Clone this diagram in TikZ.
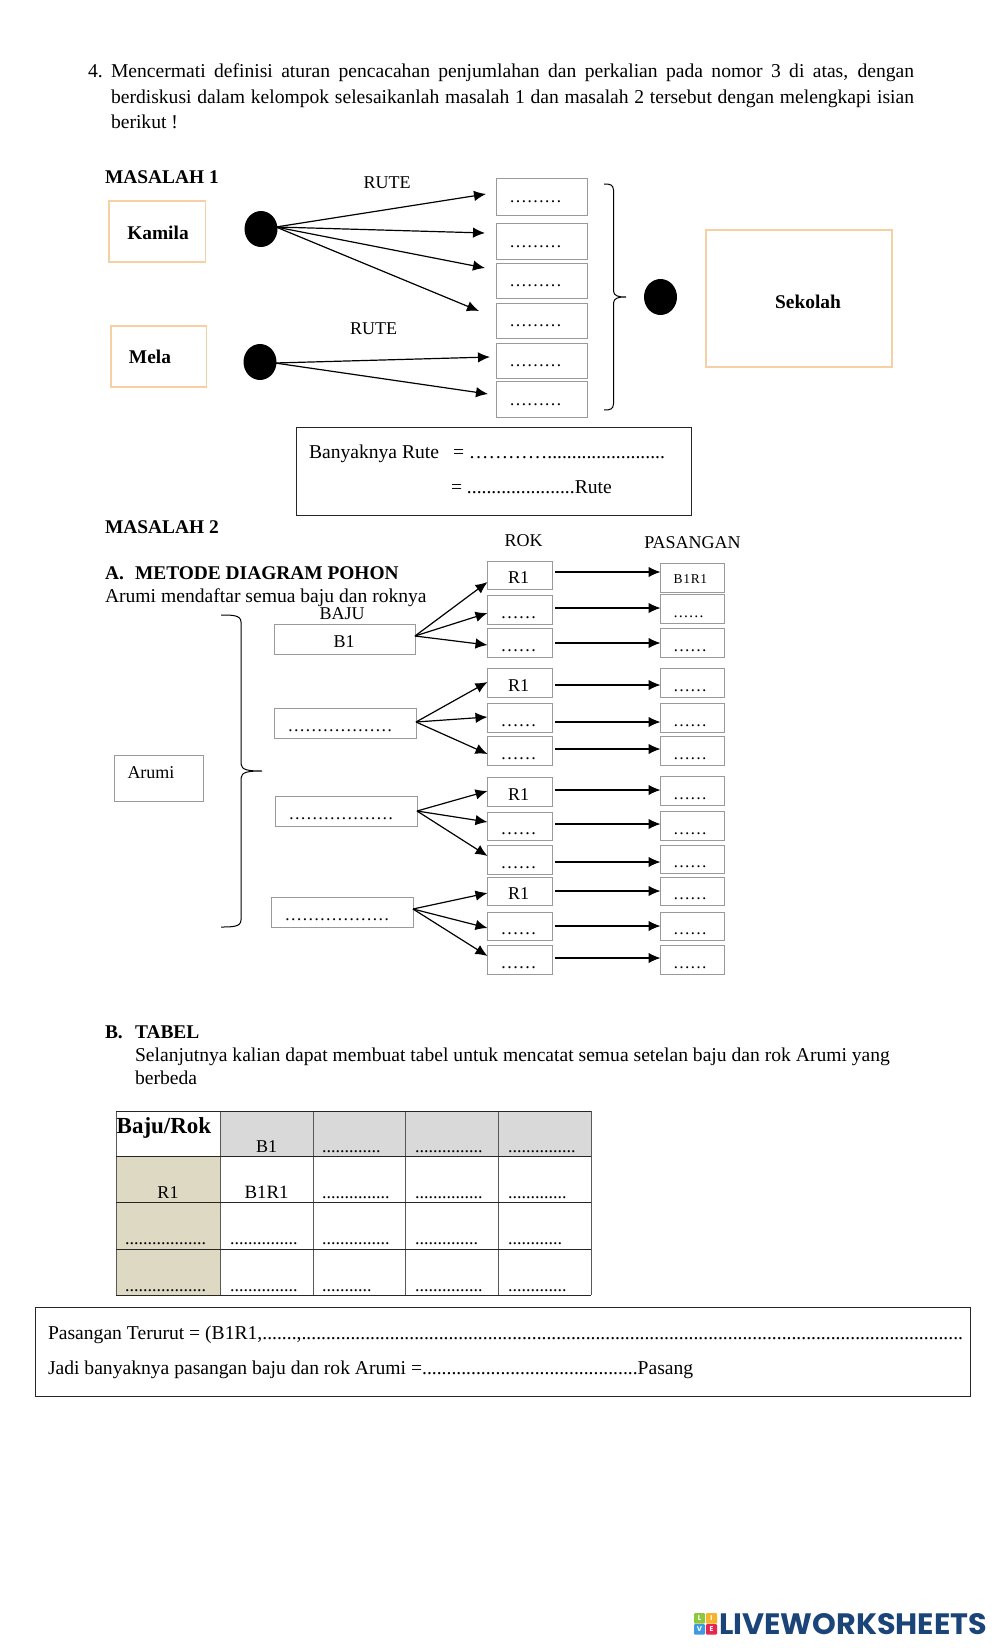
\documentclass[tikz,border=0pt]{standalone}
\usepackage{fontspec}
\usepackage{graphicx}
\setmainfont{Liberation Serif}
\newfontfamily\logofont{Poppins}
\usetikzlibrary{arrows.meta,shapes.geometric}
\newcommand\dd{……}
\newcommand\tenD{..........}
\definecolor{boxgray}{HTML}{9A9A9A}
\definecolor{peach}{HTML}{F6CFA4}
\definecolor{headgray}{HTML}{D9D9D9}
\definecolor{tan}{HTML}{DDD9C3}
\definecolor{logoblue}{HTML}{1B4478}
\tikzset{
  x=1pt,y=-1pt,
  every node/.style={inner sep=0pt,outer sep=0pt},
  bodytext/.style={font=\fontsize{19.6}{21}\selectfont,anchor=base west},
  boldtext/.style={font=\fontsize{19.4}{21}\selectfont\bfseries,anchor=base west},
  lbl/.style={font=\fontsize{18}{20}\selectfont,anchor=base},
  dotlbl/.style={font=\fontsize{17}{20}\selectfont,anchor=base},
  tabdots/.style={font=\fontsize{18}{20}\selectfont,anchor=base west},
  graybox/.style={draw=boxgray,line width=1pt,anchor=north west},
  peachbox/.style={draw=peach,line width=1.6pt,anchor=north west},
  blackbox/.style={draw=black!85,line width=1pt,anchor=north west},
  arr/.style={-{Latex[length=12pt,width=10.5pt]},line width=1.2pt,black},
  dot/.style={ellipse,fill=black,minimum width=33pt,minimum height=36pt},
  bracepath/.style={draw=black,line width=1pt},
  tabv/.style={draw=black!65,line width=0.7pt},
  tabh/.style={draw=black!85,line width=0.9pt},
}
% name, x1, y1, x2, y2, style
\newcommand\bx[6]{\node[#6,minimum width={(#4-#2)*1pt},minimum height={(#5-#3)*1pt}] (#1) at (#2,#3) {};}
\newcommand\td[4]{\node[tabdots] (tdots#1) at (#2,#3) {#4};}
\begin{document}
\begin{tikzpicture}
\useasboundingbox[fill=white] (0,0) rectangle (1000,1648);

% intro paragraph
\node[bodytext] (num) at (88,78) {4.};
\node[bodytext] (intro1) at (111,78) {\makebox[803pt][s]{Mencermati definisi aturan pencacahan penjumlahan dan perkalian pada nomor 3 di atas, dengan}};
\node[bodytext] (intro2) at (111,104) {\makebox[803pt][s]{berdiskusi dalam kelompok selesaikanlah masalah 1 dan masalah 2 tersebut dengan melengkapi isian}};
\node[bodytext] (intro3) at (111,129) {berikut !};

% MASALAH 1
\node[boldtext] (m1) at (105,183) {MASALAH 1};
\bx{kamila}{109}{201}{205.5}{262}{peachbox}
\bx{mela}{111}{326}{206.5}{387}{peachbox}
\bx{sekolah}{706}{230}{892}{367}{peachbox}
\node[boldtext,anchor=base] (kamilat) at (158,239) {Kamila};
\node[boldtext,anchor=base] (melat) at (150,363) {Mela};
\node[boldtext,anchor=base] (sekolaht) at (808,308) {Sekolah};
\node[lbl] (rute1) at (387,189) {RUTE};
\node[lbl] (rute2) at (373.5,334) {RUTE};

\node[dot] (c1) at (261,229) {};
\node[dot] (c2) at (260,362) {};
\node[dot] (c3) at (660.5,297) {};

\foreach \n/\t/\b in {1/179/215,2/223/259,3/263/298,4/303/338,5/343/378,6/381/417}{
  \bx{d\n}{496}{\t}{587.5}{\b}{graybox}
  \node[dotlbl,font=\fontsize{17.5}{20}\selectfont] (dt\n) at (535.5,\b-12) {………};
}
\coordinate (k1) at (486,194);
\coordinate (k2) at (485,233);
\coordinate (k3) at (485,268);
\coordinate (k4) at (479,311);
\coordinate (k5) at (490,357);
\coordinate (k6) at (488,394);
\coordinate (s1) at (276,227);
\coordinate (s2) at (275,363);
\foreach \e in {k1,k2,k3,k4}{\draw[arr] (s1) -- (\e);}
\foreach \e in {k5,k6}{\draw[arr] (s2) -- (\e);}
\draw[bracepath] (604,184) .. controls (611,184) and (613,185) .. (613.5,190) -- (613.5,291)
  .. controls (614,296) and (618,297) .. (626,297) .. controls (618,297) and (614,298) .. (613.5,303)
  -- (613.5,404) .. controls (613,409) and (611,410) .. (604,410);

\bx{banyak}{296}{427}{691}{515}{blackbox}
\node[bodytext] (b1) at (309,458) {Banyaknya Rute};
\node[bodytext] (b2) at (453,458) {= …………........................};
\node[bodytext] (b3) at (451,493) {= ......................Rute};

% MASALAH 2
\node[boldtext] (m2) at (105,533) {MASALAH 2};
\node[lbl] (rokh) at (523.5,546) {ROK};
\node[lbl] (pash) at (692.5,548) {PASANGAN};
\node[boldtext] (aa) at (105,579) {A.};
\node[boldtext] (ab) at (135,579) {METODE DIAGRAM POHON};
\node[bodytext] (ac) at (105,602) {Arumi mendaftar semua baju dan roknya};
\node[lbl] (bajuh) at (342,619) {BAJU};

\bx{arumi}{114.5}{755}{203.5}{801}{graybox}
\node[lbl,anchor=base west] (arumit) at (127.5,778) {Arumi};
\draw[bracepath] (221,615) .. controls (232,615) and (241,615) .. (241,622) -- (241,764)
  .. controls (241.5,770) and (248,771) .. (262,771) .. controls (248,771) and (241.5,772) .. (241,778)
  -- (241,920) .. controls (241,927) and (232,927) .. (221,927);

\bx{bj1}{274}{624}{415}{654}{graybox}
\bx{bj2}{274}{708}{416}{738}{graybox}
\bx{bj3}{275}{796}{417}{826}{graybox}
\bx{bj4}{271}{897}{413}{927}{graybox}
\node[lbl] (bj1t) at (344,647) {B1};
\node[dotlbl,font=\fontsize{17.5}{20}\selectfont] (bj2t) at (340,731) {………………};
\node[dotlbl,font=\fontsize{17.5}{20}\selectfont] (bj3t) at (341,819) {………………};
\node[dotlbl,font=\fontsize{17.5}{20}\selectfont] (bj4t) at (337,920) {………………};

\foreach \i/\ra/\rz/\pa/\pz/\ay/\lab in {
  1/561/589/563/592/572/R1,
  2/595/624/594/623/608/\dd,
  3/628/657/628/657/643/\dd,
  4/668/697/668/697/685/R1,
  5/703/732/703/732/722/\dd,
  6/736/765/736/765/749/\dd,
  7/777/806/776/805/790/R1,
  8/812/840/811/840/824/\dd,
  9/845/874/845/873/862/\dd,
  10/877/905/877/905/891/R1,
  11/912/940/912/940/926/\dd,
  12/945/974/945/974/958/\dd}{
  \bx{r\i}{487.5}{\ra}{552.5}{\rz}{graybox}
  \bx{p\i}{660.5}{\pa}{724.5}{\pz}{graybox}
  \node[lbl] (rt\i) at (518.5,\rz-6) {\lab};
  \draw[arr,shorten <=2.5pt] (r\i.east |- 0,\ay) -- (p\i.west |- 0,\ay);
}
\node[lbl,font=\fontsize{13.5}{16}\selectfont] (pt1) at (690.4,583) {B\kern0.7pt 1\kern0.7pt R\kern0.7pt 1};
\node[dotlbl,font=\fontsize{15.5}{18}\selectfont] (pt2) at (688.5,617) {\dd};
\foreach \i/\z in {3/657,4/697,5/732,6/765,7/805,8/840,9/873,10/905,11/940,12/974}{
  \node[dotlbl] (pt\i) at (690,\z-6) {\dd};
}
\foreach \b/\y/\ya/\yb/\yc/\ra/\rb/\rc in {
  1/636/582/613/645/r1/r2/r3,
  2/722/682/717/754/r4/r5/r6,
  3/811/791/822/856/r7/r8/r9,
  4/909/893/928/956/r10/r11/r12}{
  \draw[arr] (bj\b.east |- 0,\y) -- (\ra.west |- 0,\ya);
  \draw[arr] (bj\b.east |- 0,\y) -- (\rb.west |- 0,\yb);
  \draw[arr] (bj\b.east |- 0,\y) -- (\rc.west |- 0,\yc);
}

% B. TABEL
\node[boldtext] (ba) at (105,1038) {B.};
\node[boldtext] (bb) at (135,1038) {TABEL};
\node[bodytext] (bc) at (135,1061) {Selanjutnya kalian dapat membuat tabel untuk mencatat semua setelan baju dan rok Arumi yang};
\node[bodytext] (bd) at (135,1084) {berbeda};

\fill[headgray] (220,1111) rectangle (591,1156);
\fill[tan] (116,1156) rectangle (220,1295);
\foreach \x in {116,220,313,405,498,591}{\draw[tabv] (\x,1111) -- (\x,1295);}
\foreach \y in {1111,1156,1202,1249,1295}{\draw[tabh] (116,\y) -- (591,\y);}
\node[font=\fontsize{23}{25}\selectfont\bfseries,anchor=base] (tc00) at (164,1133) {Baju/Rok};
\node[lbl] (tc01) at (266.5,1152) {B1};
\node[lbl] (tc10) at (168,1198) {R1};
\node[lbl,font=\fontsize{18.8}{20}\selectfont] (tc11) at (266.5,1198) {B1R1};
\td{a}{322}{1152.5}{.............}
\td{b}{415}{1152.5}{...............}
\td{c}{508}{1152.5}{...............}
\td{d}{322}{1198}{...............}
\td{e}{415}{1198}{...............}
\td{f}{508}{1198}{.............}
\td{g}{125}{1244}{..................}
\td{h}{230}{1244}{...............}
\td{i}{322}{1244}{...............}
\td{j}{415}{1244}{..............}
\td{k}{508}{1244}{............}
\td{l}{125}{1291}{..................}
\td{m}{230}{1291}{...............}
\td{n}{322}{1291}{...........}
\td{o}{415}{1291}{...............}
\td{p}{508}{1291}{.............}

\bx{bottom}{35.5}{1307}{970.5}{1396}{blackbox}
\node[bodytext] (bt1) at (48,1339) {Pasangan Terurut = (B1R1,.......,\tenD\tenD\tenD\tenD\tenD\tenD\tenD\tenD\tenD\tenD\tenD\tenD\tenD.....};
\node[bodytext] (bt2) at (48,1374) {Jadi banyaknya pasangan baju dan rok Arumi =\tenD\tenD\tenD\tenD....Pasang};

% logo
\node[draw=none,fill=none,anchor=north west,font=\logofont\bfseries,text=logoblue] (logo) at (719,1613) {\resizebox{268pt}{21pt}{LIVEWORKSHEETS}};
\foreach \n/\x/\y/\c/\l in {1/694/1613/8DC63F/L,2/706/1613/F7B32B/I,3/694/1624/3F9BE0/V,4/706/1624/E6264F/E}{
  \definecolor{logocol}{HTML}{\c}
  \node[fill=logocol,rounded corners=1pt,minimum width=11pt,minimum height=10.5pt,anchor=north west,text=white,font=\logofont\bfseries\fontsize{7}{7}\selectfont] (lg\n) at (\x,\y) {\l};
}
\end{tikzpicture}
\end{document}
